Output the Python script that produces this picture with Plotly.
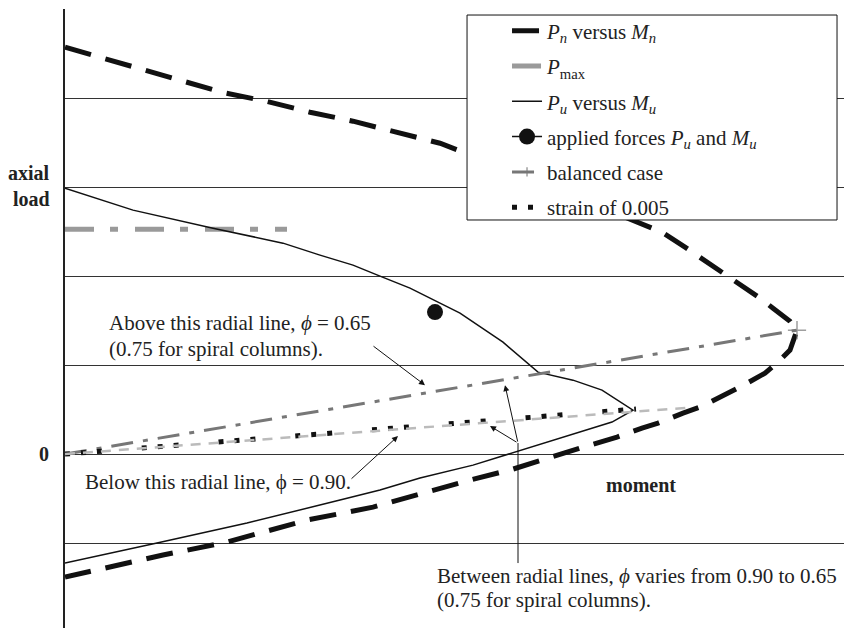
import plotly.graph_objects as go

# interaction diagram, values (arbitrary units)
# nominal strength P_n versus M_n
pn_m = [0, 0.28, 0.70, 1.13, 1.57, 2.01, 2.45, 2.88, 3.32, 3.75, 4.35, 4.95, 5.68, 5.97,
        6.20, 6.35, 6.58, 6.72, 6.95, 7.08, 7.25, 7.32, 7.28, 7.25, 7.13, 7.00, 6.75, 6.58,
        6.35, 6.18, 5.93, 5.77, 5.52, 5.15, 4.92, 4.48, 4.05, 3.62, 3.08, 2.42, 1.62, 0.98,
        0.42, 0]
pn_p = [4.573, 4.483, 4.337, 4.202, 4.067, 3.966, 3.843, 3.742, 3.618, 3.494, 3.236, 2.966,
        2.629, 2.494, 2.326, 2.213, 2.045, 1.933, 1.753, 1.640, 1.494, 1.393, 1.281, 1.169,
        1.034, 0.910, 0.753, 0.663, 0.528, 0.461, 0.348, 0.292, 0.191, 0.067, -0.011, -0.169,
        -0.292, -0.427, -0.596, -0.742, -0.989, -1.135, -1.281, -1.382]

# design strength P_u versus M_u
pu_m = [0, 0.68, 1.48, 2.18, 2.55, 2.88, 3.15, 3.45, 3.95, 4.38, 4.73, 5.08, 5.37, 5.68,
        5.47, 4.88, 4.45, 4.08, 3.55, 3.15, 2.75, 1.82, 0.92, 0]
pu_p = [2.989, 2.742, 2.539, 2.371, 2.236, 2.124, 2.0, 1.865, 1.584, 1.258, 0.921, 0.831,
        0.719, 0.494, 0.360, 0.157, 0.011, -0.124, -0.270, -0.404, -0.517, -0.775, -1.0, -1.225]

pmax_m = [0, 2.22]
pmax_p = [2.528, 2.528]

applied_m = [3.70]
applied_p = [1.596]

balanced_m = [0, 7.32]
balanced_p = [0, 1.393]

strain_m = [0, 5.71]
strain_p = [0, 0.506]

strain_n_m = [0, 6.22]
strain_n_p = [0, 0.52]

FONT = "'Liberation Serif', 'Times New Roman', serif"

fig = go.Figure()

fig.add_trace(go.Scatter(x=pn_m, y=pn_p, mode='lines', legendgroup='a',
                         name='<i>P</i><sub><i>n</i></sub> versus <i>M</i><sub><i>n</i></sub>',
                         line=dict(color='#111', width=5, dash='27px,15px')))
fig.add_trace(go.Scatter(x=pmax_m, y=pmax_p, mode='lines', legendgroup='b',
                         name='<i>P</i><sub>max</sub>',
                         line=dict(color='#9a9a9a', width=5, dash='29px,16px,8px,17px')))
fig.add_trace(go.Scatter(x=pu_m, y=pu_p, mode='lines', legendgroup='c',
                         name='<i>P</i><sub><i>u</i></sub> versus <i>M</i><sub><i>u</i></sub>',
                         line=dict(color='#111', width=1.5)))
fig.add_trace(go.Scatter(x=applied_m, y=applied_p, mode='lines+markers', legendgroup='d',
                         name='applied forces <i>P</i><sub><i>u</i></sub> and <i>M</i><sub><i>u</i></sub>',
                         line=dict(color='#111', width=1.5),
                         marker=dict(color='#111', size=16)))
fig.add_trace(go.Scatter(x=balanced_m, y=balanced_p, mode='lines+markers', legendgroup='e',
                         name='balanced case',
                         line=dict(color='#777', width=3, dash='22px,10px,5px,10px'),
                         marker=dict(symbol='cross-thin', size=[0, 13], color='#777',
                                     line=dict(color='#777', width=1.5))))
fig.add_trace(go.Scatter(x=strain_m, y=strain_p, mode='lines', legendgroup='f',
                         name='strain of 0.005',
                         line=dict(color='#111', width=5, dash='5px,11px,5px,11px,5px,40px')))
fig.add_trace(go.Scatter(x=strain_n_m, y=strain_n_p, mode='lines', showlegend=False,
                         line=dict(color='#bbbbbb', width=2.5, dash='10px,8px')))

txt = dict(family=FONT, size=21, color='#222')
bold = dict(family=FONT, size=20, color='#222', weight='bold')

annotations = [
    dict(x=0.42, y=1.472, text='Above this radial line, <i>ϕ</i> = 0.65', xanchor='left'),
    dict(x=0.42, y=1.18, text='(0.75 for spiral columns).', xanchor='left'),
    dict(x=0.18, y=-0.315, text='Below this radial line, ϕ = 0.90.', xanchor='left'),
    dict(x=3.70, y=-1.371, text='Between radial lines, <i>ϕ</i> varies from 0.90 to 0.65',
         xanchor='left'),
    dict(x=3.70, y=-1.64, text='(0.75 for spiral columns).', xanchor='left'),
]
for a in annotations:
    fig.add_annotation(xref='x', yref='y', showarrow=False, yanchor='middle', font=txt, **a)

fig.add_annotation(xref='x', yref='y', x=5.76, y=-0.348, text='<b>moment</b>',
                   showarrow=False, font=bold)
fig.add_annotation(xref='paper', yref='y', x=-0.0163, y=3.157, text='<b>axial</b>',
                   xanchor='right', showarrow=False, font=bold)
fig.add_annotation(xref='paper', yref='y', x=-0.0163, y=2.865, text='<b>load</b>',
                   xanchor='right', showarrow=False, font=bold)
fig.add_annotation(xref='paper', yref='y', x=-0.0176, y=0, text='<b>0</b>',
                   xanchor='right', showarrow=False, font=bold)

# arrows: (head, tail)
arrows = [((3.60, 0.775), (3.07, 1.225)),
          ((3.33, 0.202), (2.85, -0.292)),
          ((4.40, 0.775), (4.53, 0.124)),
          ((4.25, 0.315), (4.53, 0.124))]
for (hx, hy), (tx, ty) in arrows:
    fig.add_annotation(x=hx, y=hy, ax=tx, ay=ty, xref='x', yref='y', axref='x', ayref='y',
                       text='', showarrow=True, arrowhead=2, arrowsize=1.2, arrowwidth=1,
                       arrowcolor='#111', standoff=0, startstandoff=0)

fig.add_shape(type='line', xref='x', yref='y', x0=4.53, x1=4.53, y0=0.124, y1=-1.225,
              line=dict(color='#111', width=1))

# legend frame
fig.add_shape(type='rect', xref='paper', yref='paper', x0=0.5057, x1=0.9711,
              y0=0.6635, y1=0.9904, layer='above',
              fillcolor='white', line=dict(color='#111', width=1))

fig.update_layout(
    width=852, height=628,
    margin=dict(l=57, r=0, t=1, b=0),
    paper_bgcolor='white', plot_bgcolor='white',
    font=txt,
    showlegend=True,
    legend=dict(x=0.556, y=0.9975, xanchor='left', yanchor='top',
                bgcolor='rgba(0,0,0,0)', borderwidth=0,
                font=dict(family=FONT, size=21, color='#222'),
                traceorder='grouped', tracegroupgap=5),
    xaxis=dict(range=[0, 7.95], showgrid=False, zeroline=False, showticklabels=False,
               ticks='', showline=False),
    yaxis=dict(range=[-2.045, 5.003], dtick=1, tick0=0, showgrid=True, gridcolor='#333',
               gridwidth=1.2, zeroline=True, zerolinecolor='#333', zerolinewidth=1.2,
               showline=True, linecolor='#222', linewidth=1.5, showticklabels=False,
               ticks=''),
)

fig.write_html('out.html')
